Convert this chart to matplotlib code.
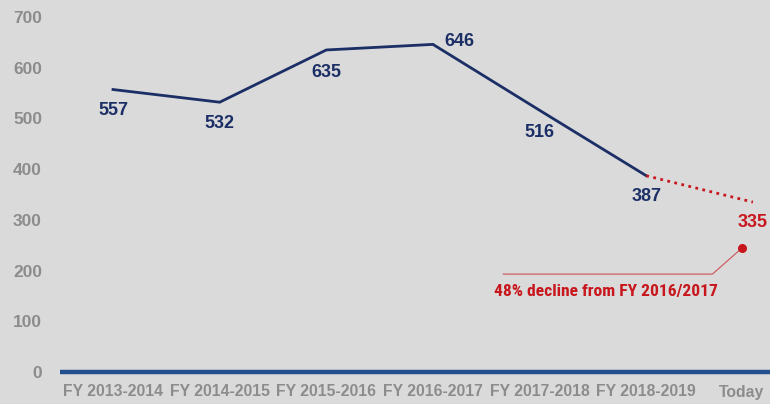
import matplotlib.pyplot as plt
from matplotlib import font_manager

years = ["FY 2013-2014", "FY 2014-2015", "FY 2015-2016", "FY 2016-2017",
         "FY 2017-2018", "FY 2018-2019", "Today"]
counts = [557, 532, 635, 646, 516, 387]
today_value = 335
yticks = [0, 100, 200, 300, 400, 500, 600, 700]
note = "48% decline from FY 2016/2017"
note_dot = (5.9, 245)

navy = "#1b2f66"
axis_blue = "#234f8f"
red = "#c8161d"
grey = "#8c8c8c"
bg = "#dadada"
bold_font = ["Liberation Sans", "DejaVu Sans"]

# a narrow face for the red note, if one is around
names = {f.name for f in font_manager.fontManager.ttflist}
narrow_font = [n for n in ["Liberation Sans Narrow", "Roboto Condensed",
                           "DejaVu Sans Condensed"] if n in names] + ["DejaVu Sans"]

fig = plt.figure(figsize=(7.7, 4.04), dpi=100, facecolor=bg)
ax = fig.add_axes([60 / 770, 32 / 404, 710 / 770, 355 / 404])
ax.set_facecolor(bg)

x = list(range(len(counts)))
ax.plot(x, counts, color=navy, lw=2, solid_joinstyle="miter", zorder=3)
ax.plot([x[-1], len(years) - 1], [counts[-1], today_value], color=red, lw=2,
        linestyle=(0, (1, 1.6)), zorder=3)

# value labels (offsets in points)
offsets = [(0, -15), (0, -15), (0, -16), (19, 2), (0, -16), (0, -15)]
for xi, v, (dx, dy) in zip(x, counts, offsets):
    ax.annotate(str(v), (xi, v), xytext=(dx, dy), textcoords="offset points",
                ha="center", va="center", color=navy, fontsize=13,
                fontweight="bold", family=bold_font)
ax.annotate(str(today_value), (len(years) - 1, today_value), xytext=(0, -15),
            textcoords="offset points", ha="center", va="center", color=red,
            fontsize=13, fontweight="bold", family=bold_font)

# annotation with connector
ax.plot([3.66, 5.62, note_dot[0]], [193, 193, note_dot[1]], color=red, lw=0.8,
        alpha=0.7, zorder=2)
ax.plot(*note_dot, "o", color=red, ms=5.5, zorder=4)
ax.text(4.62, 159, note, ha="center", va="center", color=red, fontsize=12.6,
        fontweight="bold", family=narrow_font, fontstretch="condensed")

ax.set_xlim(-0.497, 6.16)
ax.set_ylim(0, 700)
ax.set_xticks(range(len(years)))
ax.set_xticklabels(years[:-1] + [""])
ax.set_yticks(yticks)
for lab in ax.get_xticklabels():
    lab.set_family(bold_font)
    lab.set_fontweight("bold")
    lab.set_fontsize(11.3)
    lab.set_color(grey)
# last label nudged left so it stays inside the figure
ax.annotate(years[-1], (len(years) - 1, 0), xycoords=("data", "axes fraction"),
            xytext=(-8, -9), textcoords="offset points", ha="center", va="top",
            color=grey, fontsize=11.3, fontweight="bold", family=bold_font)
for lab in ax.get_yticklabels():
    lab.set_family(bold_font)
    lab.set_fontweight("bold")
    lab.set_fontsize(12.5)
    lab.set_color(grey)
ax.tick_params(length=0)
ax.tick_params(axis="x", pad=9)
ax.tick_params(axis="y", pad=13)
for side in ["top", "right", "left"]:
    ax.spines[side].set_visible(False)
ax.spines["bottom"].set_color(axis_blue)
ax.spines["bottom"].set_linewidth(3.2)
ax.spines["bottom"].set_capstyle("butt")
ax.spines["bottom"].set_zorder(5)

fig.savefig("out.png", dpi=100, facecolor=bg)
